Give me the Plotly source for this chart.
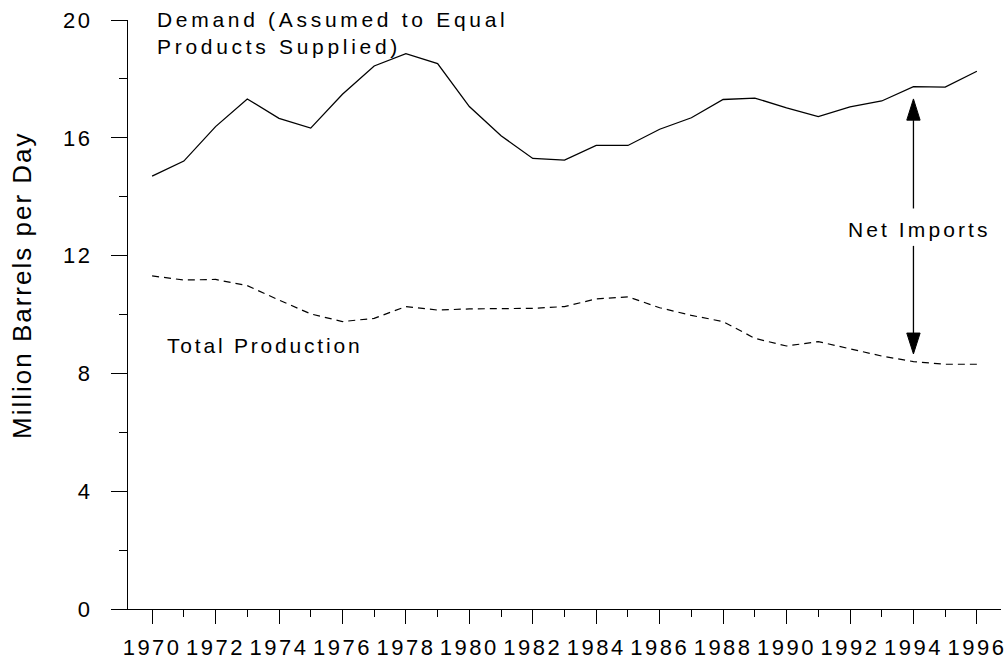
import plotly.graph_objects as go

# ---------------- data ----------------
years = list(range(1970, 1997))
demand = [14.70, 15.21, 16.38, 17.32, 16.66, 16.33, 17.48, 18.44, 18.86, 18.52,
          17.06, 16.07, 15.30, 15.24, 15.74, 15.74, 16.29, 16.68, 17.30, 17.35,
          17.02, 16.72, 17.05, 17.25, 17.74, 17.72, 18.26]
production = [11.31, 11.17, 11.19, 10.98, 10.49, 10.02, 9.76, 9.87, 10.27, 10.15,
              10.19, 10.19, 10.21, 10.27, 10.53, 10.60, 10.23, 9.97, 9.76, 9.19,
              8.93, 9.08, 8.84, 8.59, 8.40, 8.31, 8.31]
x_ticks = list(range(1970, 1997, 2))
y_ticks = [0, 4, 8, 12, 16, 20]

# net-imports arrow (year, values on the y scale)
arrow_year = 1994
arrow_up = dict(start=13.60, base=16.60, tip=17.32)
arrow_down = dict(start=12.33, base=9.37, tip=8.66)
head_half = 0.21  # years

FONT = "Arial, Liberation Sans, sans-serif"

fig = go.Figure()
fig.add_trace(go.Scatter(x=years, y=demand, mode="lines",
                         line=dict(color="black", width=1.3), showlegend=False,
                         hoverinfo="skip"))
fig.add_trace(go.Scatter(x=years, y=production, mode="lines",
                         line=dict(color="black", width=1.2, dash="7px,5px"),
                         showlegend=False, hoverinfo="skip"))

# arrows
for a in (arrow_up, arrow_down):
    fig.add_shape(type="line", xref="x", yref="y",
                  x0=arrow_year, x1=arrow_year, y0=a["start"], y1=a["base"],
                  line=dict(color="black", width=1.3))
    fig.add_shape(type="path", xref="x", yref="y",
                  path=(f"M{arrow_year - head_half},{a['base']} "
                        f"L{arrow_year + head_half},{a['base']} "
                        f"L{arrow_year},{a['tip']} Z"),
                  fillcolor="black", line=dict(color="black", width=1))

L, R, T, B = 128, 5, 20, 52
W, H = 1006, 661
pw, ph = W - L - R, H - T - B

annos = [
    dict(text="Demand (Assumed to Equal<br>Products Supplied)", x=1970.08, y=19.55,
         xref="x", yref="y", xanchor="left", yanchor="middle", align="left",
         showarrow=False, font=dict(size=21, color="black", family=FONT)),
    dict(text="Total Production", x=1970.42, y=8.96, xref="x", yref="y",
         xanchor="left", yanchor="middle", align="left", showarrow=False,
         font=dict(size=21, color="black", family=FONT)),
    dict(text="Net Imports", x=1994.2, y=12.87, xref="x", yref="y",
         xanchor="center", yanchor="middle", showarrow=False,
         font=dict(size=21, color="black", family=FONT)),
    dict(text="Million Barrels per Day", x=(22 - L) / pw, y=1 - (285 - T) / ph,
         xref="paper", yref="paper",
         textangle=-90, xanchor="center", yanchor="middle", showarrow=False,
         font=dict(size=26, color="black", family=FONT)),
]
fig.update_layout(annotations=annos)

fig.update_layout(
    width=W, height=H,
    margin=dict(l=L, r=R, t=T, b=B, pad=0, autoexpand=False),
    paper_bgcolor="white", plot_bgcolor="white",
    font=dict(family=FONT, color="black", size=21),
    hovermode=False,
    xaxis=dict(range=[1969.24, 1996.76], tickmode="array", tickvals=x_ticks,
               ticktext=[str(v) for v in x_ticks], automargin=False,
               ticks="outside", ticklen=14, tickwidth=1, tickcolor="black",
               showline=True, linecolor="black", linewidth=1, showgrid=False,
               zeroline=False, tickfont=dict(size=22), ticklabelstandoff=5,
               minor=dict(dtick=1, tick0=1970, ticks="outside", ticklen=7,
                          tickwidth=1, tickcolor="black", showgrid=False)),
    yaxis=dict(range=[0, 20], tickmode="array", tickvals=y_ticks, automargin=False,
               ticks="outside", ticklen=16, tickwidth=1, tickcolor="black",
               showline=True, linecolor="black", linewidth=1, showgrid=False,
               zeroline=False, tickfont=dict(size=22), ticklabelstandoff=14,
               minor=dict(dtick=2, tick0=0, ticks="outside", ticklen=8,
                          tickwidth=1, tickcolor="black", showgrid=False)),
)

css = ("body{margin:0;overflow:hidden}"
       ".xtick text,.ytick text{letter-spacing:2.5px}"
       ".annotation[data-index='0'] text{letter-spacing:3.7px}"
       ".annotation[data-index='1'] text{letter-spacing:2.8px}"
       ".annotation[data-index='2'] text{letter-spacing:3.1px}"
       ".annotation[data-index='3'] text{letter-spacing:2px}")
post = ("var s=document.createElement('style');s.textContent=\"" + css +
        "\";document.head.appendChild(s);document.body.style.margin='0';")
fig.write_html("out.html", post_script=post,
               config={"displayModeBar": False, "staticPlot": True})
